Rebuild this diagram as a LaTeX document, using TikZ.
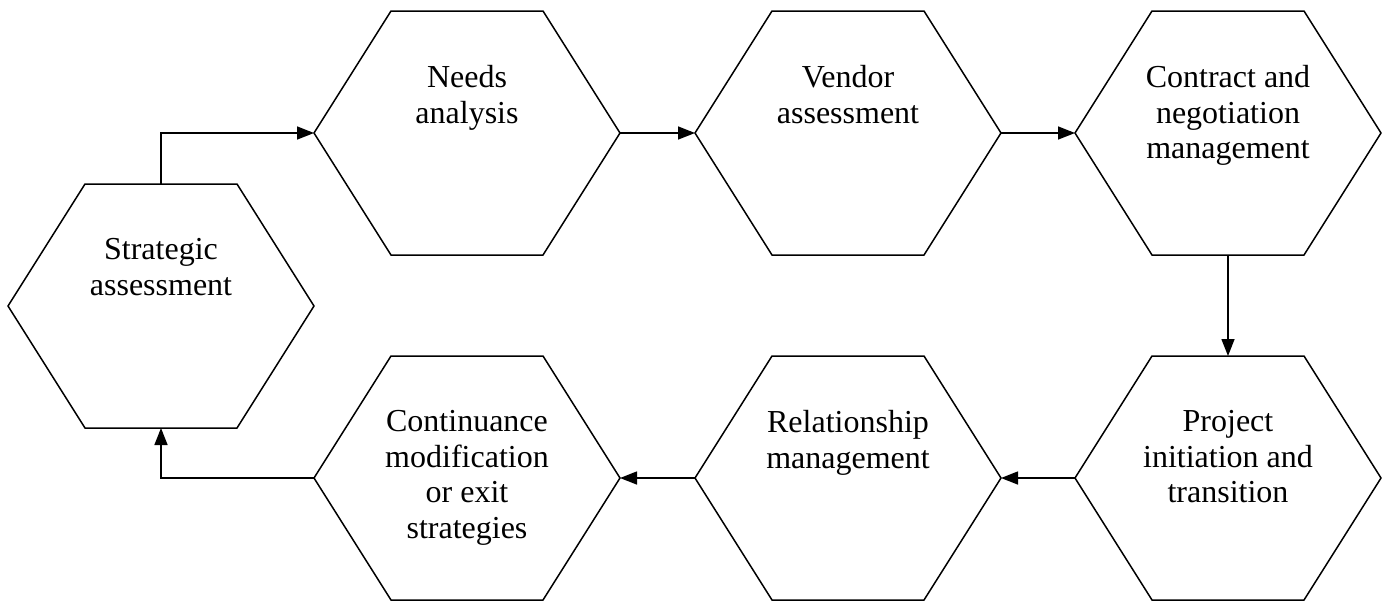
\documentclass[tikz,border=0pt]{standalone}
\usepackage{fontspec}
\setmainfont{Liberation Serif}
\usetikzlibrary{arrows.meta}

\tikzset{
  hexline/.style={line width=0.75pt, line join=miter},
  hextext/.style={align=center, anchor=north, inner sep=0pt,
    font=\fontsize{16}{17.75}\selectfont,
    execute at begin node={\rule{0pt}{11.5pt}}},
  flow/.style={line width=0.75pt, -{Triangle[length=8.5pt,width=6.5pt]}}
}

\begin{document}
\begin{tikzpicture}[x=0.5pt, y=-0.5pt]
  \useasboundingbox (0,0) rectangle (1393,601);

  % hexagons, with their corner points named
  \foreach \n/\cx/\cy in {strat/161/306, needs/467/133, vend/848/133, contr/1228/133,
                          proj/1228/478, rel/848/478, cont/467/478} {
    \draw[hexline] (\cx-153,\cy) -- (\cx-76,\cy-122) -- (\cx+76,\cy-122)
      -- (\cx+153,\cy) -- (\cx+76,\cy+122) -- (\cx-76,\cy+122) -- cycle;
    \coordinate (\n-w) at (\cx-153,\cy);
    \coordinate (\n-e) at (\cx+153,\cy);
    \coordinate (\n-n) at (\cx,\cy-122);
    \coordinate (\n-s) at (\cx,\cy+122);
  }

  \node[hextext] (strat) at (161,238) {Strategic\\assessment};
  \node[hextext] (needs) at (467,65) {Needs\\analysis};
  \node[hextext] (vend) at (848,65) {Vendor\\assessment};
  \node[hextext] (contr) at (1228,65) {Contract and\\negotiation\\management};
  \node[hextext] (proj) at (1228,410) {Project\\initiation and\\transition};
  \node[hextext] (rel) at (848,410) {Relationship\\management};
  \node[hextext] (cont) at (467,410) {Continuance\\modification\\or exit\\strategies};

  % connectors
  \draw[flow] (strat-n) |- (needs-w);
  \draw[flow] (needs-e) -- (vend-w);
  \draw[flow] (vend-e) -- (contr-w);
  \draw[flow] (contr-s) -- (proj-n);
  \draw[flow] (proj-w) -- (rel-e);
  \draw[flow] (rel-w) -- (cont-e);
  \draw[flow] (cont-w) -| (strat-s);
\end{tikzpicture}
\end{document}
